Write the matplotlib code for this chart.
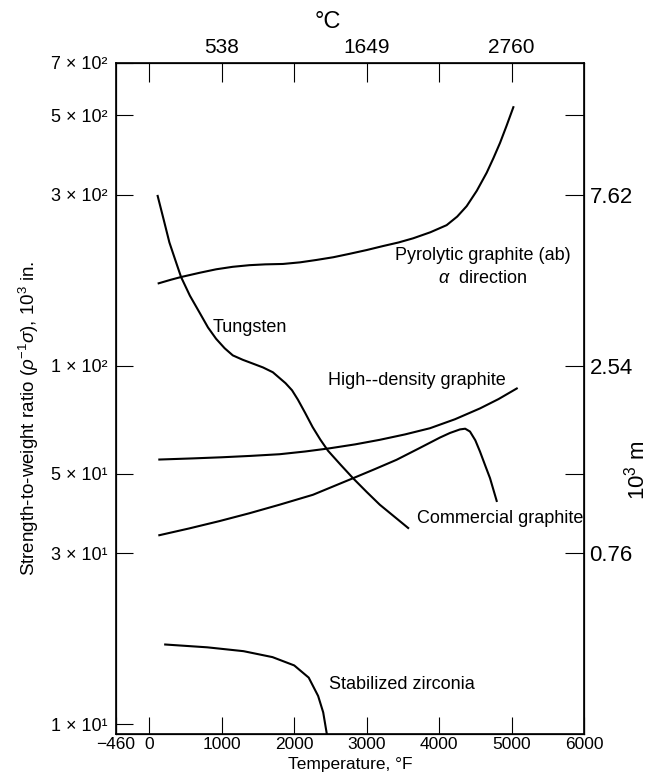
import matplotlib
matplotlib.use("Agg")
import matplotlib.pyplot as plt
from matplotlib.ticker import FixedLocator, NullLocator

plt.rcParams['font.family'] = ['Liberation Sans', 'DejaVu Sans']
plt.rcParams['mathtext.fontset'] = 'custom'
plt.rcParams['mathtext.rm'] = 'Liberation Sans'
plt.rcParams['mathtext.it'] = 'Liberation Sans:italic'

# curves: temperature (deg F), strength-to-weight ratio (10^3 in.)
tungsten_t = [115, 200, 277, 360, 438, 560, 692, 810, 922, 1040, 1152, 1290, 1429,
              1570, 1705, 1880, 1970, 2051, 2150, 2254, 2360, 2466, 2640, 2812, 3000,
              3181, 3380, 3573]
tungsten_r = [298, 255, 221, 197, 177, 157, 141, 128, 119, 112, 107, 104, 101.5,
              99, 96, 89.5, 85.5, 80.5, 74, 67.5, 62.3, 58.0, 53.0, 48.6, 44.5,
              41.0, 38.0, 35.3]

pyro_t = [129, 300, 438, 700, 922, 1150, 1383, 1600, 1844, 2080, 2306, 2540, 2766,
          3000, 3227, 3440, 3642, 3880, 4104, 4250, 4380, 4520, 4657, 4750, 4841,
          4930, 5025]
pyro_r = [170, 174, 177, 182, 186, 189, 191, 192, 192.5, 194.5, 197.5, 201, 205.5,
          210.5, 216, 221, 227, 236, 247, 261, 279, 308, 346, 380, 419,
          467, 527]

hd_t = [138, 600, 1000, 1400, 1798, 2150, 2490, 2840, 3181, 3530, 3873, 4220, 4564,
        4820, 5072]
hd_r = [54.8, 55.2, 55.6, 56.1, 56.7, 57.7, 58.9, 60.4, 62.2, 64.4, 67.0, 71.0, 76.1,
        80.8, 86.5]

comm_t = [138, 550, 968, 1380, 1798, 2259, 2812, 3110, 3412, 3710, 4011, 4150, 4288,
          4360, 4426, 4500, 4564, 4640, 4703, 4795]
comm_r = [33.7, 35.2, 36.9, 38.8, 41.0, 43.7, 48.6, 51.5, 54.7, 58.7, 63.1, 65.0, 66.5,
          66.8, 65.6, 62.0, 57.7, 52.5, 48.6, 42.0]

zirc_t = [219, 800, 1300, 1700, 2000, 2200, 2330, 2400, 2450]
zirc_r = [16.7, 16.4, 16.0, 15.4, 14.6, 13.5, 12.0, 10.8, 9.4]

x_ticks = [-460, 0, 1000, 2000, 3000, 4000, 5000, 6000]
y_ticks = [10, 30, 50, 100, 300, 500, 700]
y_labels = ['1 × 10¹', '3 × 10¹', '5 × 10¹', '1 × 10²', '3 × 10²', '5 × 10²', '7 × 10²']
top_ticks = [0, 1000, 2000, 3000, 4000, 5000]
top_labels = ['', '538', '', '1649', '', '2760']
right_ticks = [30, 50, 100, 300, 500]
right_labels = ['0.76', '', '2.54', '7.62', '']

fig = plt.figure(figsize=(6.61, 7.73), dpi=100)
ax = fig.add_axes([0.1755, 0.0505, 0.708, 0.868])

for t, r in [(tungsten_t, tungsten_r), (pyro_t, pyro_r), (hd_t, hd_r),
             (comm_t, comm_r), (zirc_t, zirc_r)]:
    ax.plot(t, r, color='black', lw=1.5, solid_joinstyle='round')

ax.set_yscale('log')
ax.set_xlim(-460, 6000)
ax.set_ylim(9.4, 700)

ax.set_xticks(x_ticks)
ax.set_xticklabels([('−460' if v < 0 else str(v)) for v in x_ticks], fontsize=12.5)
ax.yaxis.set_major_locator(FixedLocator(y_ticks))
ax.yaxis.set_minor_locator(NullLocator())
ax.set_yticklabels(y_labels, fontsize=13)
ax.tick_params(axis='y', direction='in', length=12, width=0.8, pad=6)
ax.tick_params(axis='x', direction='in', length=12, width=0.8, pad=2)
ax.yaxis.get_major_ticks()[0].tick1line.set_visible(False)
ax.xaxis.get_major_ticks()[0].tick1line.set_visible(False)
for s in ax.spines.values():
    s.set_linewidth(1.2)

ax.set_xlabel('Temperature, °F', fontsize=12.5, labelpad=4)
ax.set_ylabel(r'Strength-to-weight ratio ($\rho^{-1}\sigma$), 10$^3$ in.',
              fontsize=13.5)
ax.yaxis.set_label_coords(-0.16, 0.47)

# top axis in deg C
top = ax.twiny()
top.set_xlim(ax.get_xlim())
top.set_xticks(top_ticks)
top.set_xticklabels(top_labels, fontsize=15)
top.tick_params(axis='x', direction='in', length=14, width=0.8, pad=4)
fig.text(328 / 661, 1 - 22 / 773, '°C', fontsize=17, ha='center', va='center')

# right axis in 10^3 m
right = ax.twinx()
right.set_yscale('log')
right.set_ylim(ax.get_ylim())
right.yaxis.set_major_locator(FixedLocator(right_ticks))
right.yaxis.set_minor_locator(NullLocator())
right.set_yticklabels(right_labels, fontsize=16)
right.tick_params(axis='y', direction='in', length=14, width=0.8, pad=4)
fig.text(637 / 661, 1 - 470 / 773, '10$^3$ m', fontsize=16, rotation=90,
         ha='center', va='center')

ax.text(880, 128, 'Tungsten', fontsize=13, va='center')
ax.text(4600, 203, 'Pyrolytic graphite (ab)', fontsize=13, ha='center', va='center')
ax.text(4600, 175, r'$\alpha$  direction', fontsize=13, ha='center', va='center')
ax.text(2470, 91, 'High‑‑density graphite', fontsize=13, va='center')
ax.text(3700, 37.5, 'Commercial graphite', fontsize=13, va='center')
ax.text(2480, 12.9, 'Stabilized zirconia', fontsize=13, va='center')

fig.savefig('out.png', dpi=100)
